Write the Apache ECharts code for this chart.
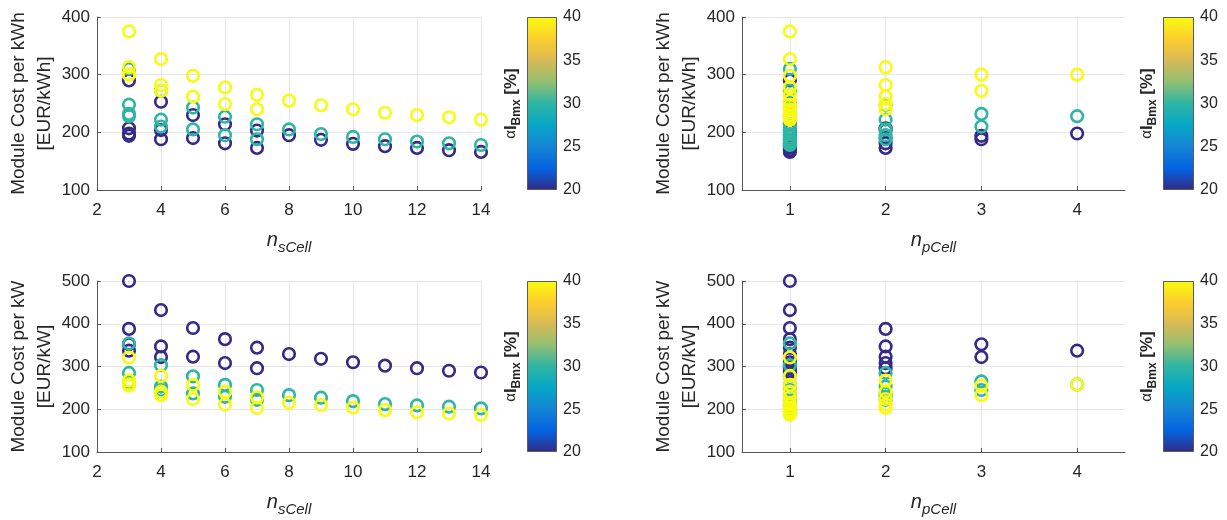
<!DOCTYPE html>
<html>
<head>
<meta charset="utf-8">
<script src="https://cdn.jsdelivr.net/npm/echarts@6/dist/echarts.min.js"></script>
<style>
  html, body { margin: 0; padding: 0; background: #fff; }
  #chart { width: 1227px; height: 520px; }
</style>
</head>
<body>
<div id="chart"></div>
<script>
// Module design points, same order for each alpha level:
// number of cells in series (nsCell) and in parallel (npCell)
const nsCell = [3, 3, 3, 3, 4, 4, 4, 5, 5, 6, 6, 7, 7, 8, 9, 10, 11, 12, 13, 14];
const npCell = [1, 2, 3, 4, 1, 2, 3, 1, 2, 1, 2, 1, 2, 1, 1, 1, 1, 1, 1, 1];
const alphaLevels = [20, 30, 40];   // alpha * I_Bmx [%]

// Module cost per kWh [EUR/kWh]
const costKWh20 = [290, 207, 194, 198, 253, 204, 188, 230, 190, 214, 181, 203, 173, 195, 187, 180, 176, 173, 169, 166];
const costKWh30 = [310, 248, 232, 228, 272, 222, 210, 243, 205, 227, 195, 214, 188, 205, 197, 192, 188, 184, 181, 178];
const costKWh40 = [375, 313, 300, 300, 327, 282, 272, 298, 262, 278, 249, 265, 240, 255, 247, 240, 234, 230, 226, 222];

// Module cost per kW [EUR/kW]
const costKW20 = [500, 388, 352, 337, 432, 347, 322, 390, 323, 364, 308, 344, 296, 329, 318, 310, 302, 296, 290, 286];
const costKW30 = [354, 285, 265, 258, 303, 253, 245, 277, 237, 257, 229, 245, 222, 233, 227, 219, 212, 209, 206, 202];
const costKW40 = [321, 267, 255, 258, 278, 241, 233, 257, 224, 241, 211, 228, 203, 215, 210, 204, 198, 193, 190, 187];

// Axis ranges and tick labels
const nsRange = [2, 14];
const npRange = [0.5, 4.5];
const npTicks = [1, 2, 3, 4];
const kWhRange = [100, 400];
const kWRange = [100, 500];
const colorRange = [20, 40];

// parula colour map
const parula = ['#352a87', '#0363e1', '#1485d4', '#06a7c6', '#2eb5a4', '#92bf73', '#d9ba56', '#fcce2e', '#f9fb0e'];

const costKWh = [costKWh20, costKWh30, costKWh40];
const costKW = [costKW20, costKW30, costKW40];

function buildPoints(xs, ys) {
  const out = [];
  alphaLevels.forEach((a, k) => {
    xs.forEach((x, i) => out.push([x, ys[k][i], a]));
  });
  return out;
}

const FONT = 'Liberation Sans, Arial, sans-serif';
const TXT = '#262626';
const AX = '#555555';

const panels = [
  { grid: { left: 97, top: 17, width: 384, height: 173 }, xs: nsCell, ys: costKWh, x: 'ns', y: 'kWh' },
  { grid: { left: 742, top: 17, width: 383, height: 173 }, xs: npCell, ys: costKWh, x: 'np', y: 'kWh' },
  { grid: { left: 97, top: 281, width: 384, height: 171 }, xs: nsCell, ys: costKW, x: 'ns', y: 'kW' },
  { grid: { left: 742, top: 281, width: 383, height: 171 }, xs: npCell, ys: costKW, x: 'np', y: 'kW' }
];
const colorbars = [
  { left: 527, top: 17, width: 30, height: 173 },
  { left: 1163, top: 17, width: 31, height: 173 },
  { left: 527, top: 281, width: 30, height: 171 },
  { left: 1163, top: 281, width: 31, height: 171 }
];

const grid = [], xAxis = [], yAxis = [], series = [];

const axisCommon = {
  axisLine: { show: true, lineStyle: { color: AX, width: 1 } },
  axisTick: { show: true, inside: true, length: 4, lineStyle: { color: AX } },
  axisLabel: { color: TXT, fontSize: 17, fontFamily: FONT },
  splitLine: { show: true, lineStyle: { color: '#e6e6e6', width: 1 } }
};

function xName(sub) {
  return {
    name: '{n|n}{s|' + sub + '}',
    nameLocation: 'middle',
    nameGap: 35,
    nameTextStyle: {
      rich: {
        n: { fontSize: 20, fontStyle: 'italic', fontFamily: FONT, color: TXT, lineHeight: 30, verticalAlign: 'middle' },
        s: { fontSize: 15, fontStyle: 'italic', fontFamily: FONT, color: TXT, lineHeight: 16, verticalAlign: 'bottom' }
      }
    }
  };
}

panels.forEach((p, i) => {
  grid.push(Object.assign({ containLabel: false }, p.grid));
  const xa = Object.assign({ type: 'value', gridIndex: i }, JSON.parse(JSON.stringify(axisCommon)));
  if (p.x === 'ns') {
    Object.assign(xa, { min: nsRange[0], max: nsRange[1], interval: 2 }, xName('sCell'));
  } else {
    Object.assign(xa, { min: npRange[0], max: npRange[1] }, xName('pCell'));
    xa.axisLabel.customValues = npTicks;
    xa.axisTick.customValues = npTicks;
  }
  xa.axisLabel.margin = 12;
  xAxis.push(xa);

  const ya = Object.assign({ type: 'value', gridIndex: i }, JSON.parse(JSON.stringify(axisCommon)));
  const r = p.y === 'kWh' ? kWhRange : kWRange;
  Object.assign(ya, {
    min: r[0], max: r[1], interval: 100,
    name: p.y === 'kWh' ? 'Module Cost per kWh\n[EUR/kWh]' : 'Module Cost per kW\n[EUR/kW]',
    nameLocation: 'middle',
    nameGap: 37,
    nameTextStyle: { fontSize: 19, lineHeight: 26, color: TXT, fontFamily: FONT }
  });
  ya.axisLabel.margin = 7;
  yAxis.push(ya);

  series.push({
    type: 'custom',
    xAxisIndex: i,
    yAxisIndex: i,
    dimensions: ['x', 'cost', 'alpha'],
    encode: { x: 0, y: 1 },
    data: buildPoints(p.xs, p.ys),
    renderItem: function (params, api) {
      const c = api.coord([api.value(0), api.value(1)]);
      return {
        type: 'circle',
        shape: { cx: c[0], cy: c[1], r: 5.8 },
        style: { fill: 'none', stroke: api.visual('color'), lineWidth: 2.6 }
      };
    }
  });
});

// Colour bars: one per panel, with the alpha*I_Bmx scale
colorbars.forEach((cb, k) => {
  const gi = grid.length;
  grid.push(Object.assign({ containLabel: false }, cb));
  const xi = xAxis.length;
  xAxis.push({ type: 'category', gridIndex: gi, data: ['c'], show: false });
  const yi = yAxis.length;
  yAxis.push({
    type: 'value', gridIndex: gi, position: 'right',
    min: colorRange[0], max: colorRange[1], interval: 5,
    axisLine: { show: false }, axisTick: { show: false }, splitLine: { show: false },
    axisLabel: { color: TXT, fontSize: 16, fontFamily: FONT, margin: 6 }
  });
  yAxis.push({
    type: 'value', gridIndex: gi, position: 'left',
    min: colorRange[0], max: colorRange[1],
    axisLine: { show: false }, axisTick: { show: false }, splitLine: { show: false }, axisLabel: { show: false },
    name: '{a|\u03b1}{i|I}{s|Bmx}{i| [%]}',
    nameLocation: 'middle',
    nameRotate: 90,
    nameGap: 4,
    nameTextStyle: {
      rich: {
        a: { fontSize: 15, fontFamily: FONT, color: TXT, lineHeight: 24, verticalAlign: 'middle' },
        i: { fontSize: 17, fontWeight: 'bold', fontFamily: FONT, color: TXT, lineHeight: 24, verticalAlign: 'middle' },
        s: { fontSize: 12, fontWeight: 'bold', fontFamily: FONT, color: TXT, lineHeight: 14, verticalAlign: 'bottom' }
      }
    }
  });
  series.push({
    type: 'bar', xAxisIndex: xi, yAxisIndex: yi, stack: 'cb' + k, silent: true,
    barWidth: '100%', data: [colorRange[0]], itemStyle: { color: 'rgba(0,0,0,0)' }
  });
  series.push({
    type: 'bar', xAxisIndex: xi, yAxisIndex: yi, stack: 'cb' + k, silent: true,
    barWidth: '100%', data: [colorRange[1] - colorRange[0]],
    itemStyle: {
      color: new echarts.graphic.LinearGradient(0, 0, 0, 1,
        parula.slice().reverse().map((c, j, arr) => ({ offset: j / (arr.length - 1), color: c }))),
      borderColor: '#5a5a5a', borderWidth: 1
    }
  });
});

const chart = echarts.init(document.getElementById('chart'), null, { renderer: 'canvas' });
chart.setOption({
  animation: false,
  backgroundColor: '#ffffff',
  grid: grid,
  xAxis: xAxis,
  yAxis: yAxis,
  visualMap: {
    type: 'continuous', show: false,
    min: colorRange[0], max: colorRange[1], dimension: 2,
    seriesIndex: [0, 1, 2, 3],
    inRange: { color: parula }
  },
  series: series
});
</script>
</body>
</html>
